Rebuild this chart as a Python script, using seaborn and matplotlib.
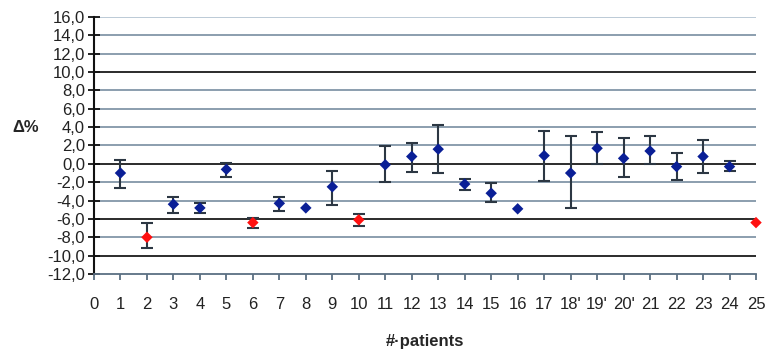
import matplotlib
matplotlib.use("Agg")
import matplotlib.pyplot as plt
import seaborn as sns
import pandas as pd

# values
patients = list(range(1, 26))
delta = [-1.0, -8.0, -4.4, -4.8, -0.6, -6.4, -4.3, -4.8, -2.5, -6.1,
         -0.1, 0.8, 1.6, -2.2, -3.2, -4.9, 0.9, -1.0, 1.7, 0.6,
         1.4, -0.3, 0.8, -0.3, -6.4]
upper = [0.4, -6.4, -3.6, -4.3, 0.1, -5.9, -3.6, None, -0.8, -5.5,
         1.9, 2.3, 4.2, -1.7, -2.1, None, 3.6, 3.0, 3.45, 2.8,
         3.0, 1.2, 2.65, 0.3, None]
lower = [-2.6, -9.2, -5.3, -5.4, -1.4, -7.0, -5.1, None, -4.5, -6.8,
         -2.0, -0.9, -1.0, -2.8, -4.2, None, -1.9, -4.8, 0.0, -1.4,
         0.0, -1.8, -1.0, -0.8, None]
group = ["ok", "out", "ok", "ok", "ok", "out", "ok", "ok", "ok", "out",
         "ok", "ok", "ok", "ok", "ok", "ok", "ok", "ok", "ok", "ok",
         "ok", "ok", "ok", "ok", "out"]
xtick_labels = ["0", "1", "2", "3", "4", "5", "6", "7", "8", "9", "10", "11", "12",
                "13", "14", "15", "16", "17", "18'", "19'", "20'", "21", "22",
                "23", "24", "25"]
yticks = [-12, -10, -8, -6, -4, -2, 0, 2, 4, 6, 8, 10, 12, 14, 16]
ytick_labels = ["-12,0", "-10,0", "-8,0", "-6,0", "-4,0", "-2,0", "0,0", "2,0",
                "4,0", "6,0", "8,0", "10,0", "12,0", "14,0", "16,0"]
dark_lines = [10, 0, -6, -10]

df = pd.DataFrame({"patient": patients, "delta": delta, "group": group,
                   "upper": upper, "lower": lower})

sns.set_style("white")
plt.rcParams["font.family"] = ["Liberation Sans", "DejaVu Sans"]
plt.rcParams["font.size"] = 12

fig, ax = plt.subplots(figsize=(7.69, 3.52), dpi=100)
fig.subplots_adjust(left=0.1222, right=0.9831, bottom=0.2216, top=0.9517)

# horizontal grid, some lines drawn black as in the original
for y in yticks[1:]:
    if y in dark_lines:
        c = "#111111"
    elif y == 16:
        c = "#b4c4d2"
    else:
        c = "#7d92a5"
    ax.axhline(y, color=c, lw=1.25, zorder=0)

# error bars
eb = df.dropna(subset=["upper", "lower"])
ax.errorbar(eb["patient"], eb["delta"],
            yerr=[eb["delta"] - eb["lower"], eb["upper"] - eb["delta"]],
            fmt="none", ecolor="#2c3743", elinewidth=1.5, capsize=4.5,
            capthick=1.5, zorder=2)

sns.scatterplot(data=df, x="patient", y="delta", hue="group",
                palette={"ok": "#0a1f96", "out": "#ff1010"}, marker="D",
                s=34, linewidth=0, legend=False, zorder=3, clip_on=False, ax=ax)

ax.set_xlim(0, 25)
ax.set_ylim(-12, 16)
ax.set_xticks(range(0, 26))
ax.set_xticklabels(xtick_labels)
ax.set_yticks(yticks)
ax.set_yticklabels(ytick_labels)

for s in ["top", "right"]:
    ax.spines[s].set_visible(False)
ax.spines["left"].set_color("#111111")
ax.spines["left"].set_linewidth(1.5)
ax.spines["bottom"].set_color("#5b6f82")
ax.spines["bottom"].set_linewidth(1.3)

ax.tick_params(axis="y", direction="inout", length=9, width=1.3,
               color="#111111", pad=2, labelsize=12, labelcolor="#222222",
               left=True)
ax.tick_params(axis="x", direction="out", length=4.5, width=1.3,
               color="#5b6f82", pad=12, labelsize=12, labelcolor="#222222",
               bottom=True)

ax.set_xlabel("#\u00b7patients", fontweight="bold", fontsize=12, labelpad=16)
ax.set_ylabel("")
fig.text(26 / 769, 1 - 127 / 352, "\u0394%", fontweight="bold", fontsize=12,
         ha="center", va="center")

fig.savefig("out.png", dpi=100)
